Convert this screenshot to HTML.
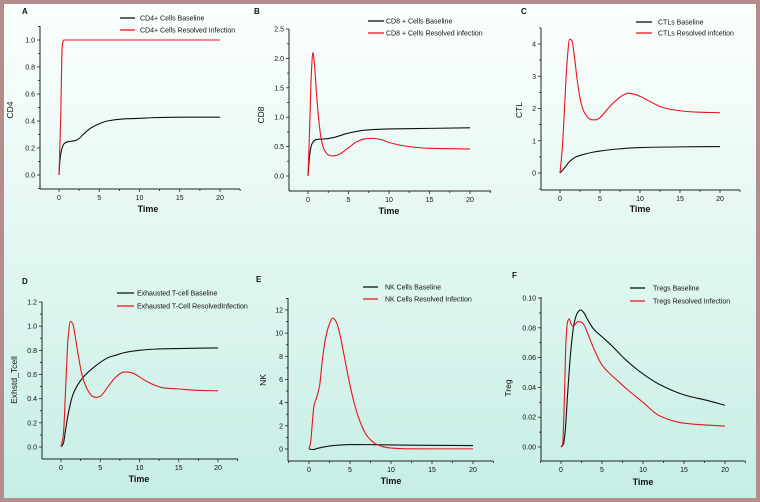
<!DOCTYPE html>
<html><head><meta charset="utf-8">
<style>
html,body{margin:0;padding:0;}
body{width:760px;height:502px;overflow:hidden;}
#wrap{position:absolute;left:0;top:0;width:752px;height:494px;border:4px solid #b48c8c;background:linear-gradient(to bottom,#fbfefd 0%,#e2f7f2 50%,#c6eee4 100%);}
svg{position:absolute;left:0;top:0;}
text{font-family:"Liberation Sans",Arial,sans-serif;fill:#111;}
</style></head>
<body>
<div id="wrap"></div>
<svg id="fig" width="760" height="502"></svg>
<script>
// ---- data ----
const xTicks=[0,5,10,15,20];
const aT=[0,0.1,0.3,0.6,1,1.5,2,2.5,3,4,5,6,8,10,12,15,20];
const aBase=[0,0.1,0.18,0.23,0.245,0.25,0.255,0.27,0.3,0.35,0.38,0.4,0.415,0.42,0.425,0.428,0.428];
const aRT=[0,0.2,0.4,0.5,0.6,1,20];
const aRes=[0,0.4,0.95,0.99,1,1,1];
const aYTicks=[0,0.2,0.4,0.6,0.8,1.0];
const aYLabels=["0.0","0.2","0.4","0.6","0.8","1.0"];

const bT=[0,0.2,0.5,1,2,3,5,7,10,15,20];
const bBase=[0,0.35,0.55,0.62,0.63,0.65,0.73,0.78,0.8,0.81,0.82];
const bRT=[0,0.2,0.4,0.6,0.8,1,1.3,1.6,2,2.5,3,3.5,4,5,6,7,8,9,10,12,15,20];
const bRes=[0,0.8,1.7,2.1,1.9,1.5,1.0,0.65,0.45,0.36,0.34,0.35,0.38,0.48,0.58,0.63,0.64,0.62,0.57,0.51,0.47,0.46];
const bYTicks=[0,0.5,1.0,1.5,2.0,2.5];
const bYLabels=["0.0","0.5","1.0","1.5","2.0","2.5"];

const cT=[0,0.3,0.7,1,1.5,2,3,4,5,7,10,15,20];
const cBase=[0,0.08,0.2,0.3,0.42,0.5,0.58,0.64,0.68,0.74,0.79,0.81,0.82];
const cRT=[0,0.3,0.6,0.9,1.2,1.5,1.8,2.2,2.6,3,3.5,4,4.5,5,5.5,6,7,8,8.5,9,10,11,12,13,15,17,20];
const cRes=[0,0.8,2.2,3.5,4.15,4.1,3.6,2.8,2.2,1.9,1.72,1.65,1.65,1.72,1.85,2.0,2.25,2.43,2.47,2.46,2.38,2.25,2.12,2.02,1.93,1.89,1.87];
const cYTicks=[0,1,2,3,4];
const cYLabels=["0","1","2","3","4"];

const dT=[0,0.3,0.6,1,1.5,2,2.5,3,4,5,6,7,8,10,12,15,20];
const dBase=[0,0.03,0.15,0.3,0.43,0.5,0.55,0.59,0.65,0.7,0.74,0.76,0.78,0.8,0.81,0.815,0.82];
const dRT=[0,0.3,0.6,0.9,1.2,1.5,1.8,2.2,2.6,3,3.5,4,4.5,5,6,7,8,8.5,9,10,11,12,13,15,17,20];
const dRes=[0,0.1,0.5,0.9,1.04,1.02,0.92,0.76,0.62,0.53,0.46,0.42,0.41,0.42,0.5,0.58,0.62,0.62,0.615,0.58,0.54,0.51,0.49,0.48,0.47,0.465];
const dYTicks=[0,0.2,0.4,0.6,0.8,1.0,1.2];
const dYLabels=["0.0","0.2","0.4","0.6","0.8","1.0","1.2"];

const eT=[0,0.5,1,2,3,4,5,6,8,10,15,20];
const eBase=[0,-0.05,0.05,0.2,0.3,0.35,0.38,0.38,0.37,0.35,0.32,0.3];
const eRT=[0,0.2,0.4,0.6,1,1.3,1.6,2,2.5,2.9,3.3,3.8,4.3,5,5.5,6,6.5,7,7.5,8,9,10,12,15,20];
const eRes=[0,0.6,2.2,3.7,4.6,5.5,7.5,9.5,10.8,11.3,11.0,9.8,8.0,5.5,4.0,2.8,1.9,1.2,0.8,0.5,0.2,0.08,0.02,0.01,0.01];
const eYTicks=[0,2,4,6,8,10,12];
const eYLabels=["0","2","4","6","8","10","12"];

const fT=[0,0.3,0.5,0.8,1.2,1.6,2,2.4,2.8,3.2,4,5,6,8,10,12,15,18,20];
const fBase=[0,0.002,0.01,0.035,0.065,0.083,0.09,0.092,0.09,0.086,0.079,0.074,0.069,0.058,0.049,0.042,0.035,0.031,0.028];
const fRT=[0,0.2,0.4,0.6,0.8,1.0,1.2,1.4,1.7,2,2.4,2.8,3.2,4,5,6,7,8,10,12,15,20];
const fRes=[0,0.002,0.03,0.07,0.084,0.086,0.083,0.081,0.082,0.084,0.084,0.082,0.077,0.066,0.055,0.049,0.044,0.039,0.03,0.021,0.016,0.014];
const fYTicks=[0,0.02,0.04,0.06,0.08,0.10];
const fYLabels=["0.00","0.02","0.04","0.06","0.08","0.10"];

// ---- layout ----
const panels=[
 {id:"a",letter:"A",ylab:"CD4",bl:"CD4+ Cells Baseline",rl:"CD4+ Cells Resolved Infection",t:aT,b:aBase,rt:aRT,r:aRes,yt:aYTicks,yl:aYLabels,
  ax:40,x0:59,x20:220,xr:240,ay:189,atop:26,y0:175,yv:1.0,yvp:40,lx:[22,10],ylx:10,yly:110,tx:[148,209],leg:[120,135,18,30,140]},
 {id:"b",letter:"B",ylab:"CD8",bl:"CD8 + Cells Baseline",rl:"CD8 + Cells Resolved infection",t:bT,b:bBase,rt:bRT,r:bRes,yt:bYTicks,yl:bYLabels,
  ax:289,x0:308,x20:470,xr:491,ay:191,atop:29,y0:176,yv:2.5,yvp:29,lx:[254,10],ylx:261,yly:115,tx:[389,211],leg:[368,384,21,33,386]},
 {id:"c",letter:"C",ylab:"CTL",bl:"CTLs Baseline",rl:"CTLs Resolved  infcetion",t:cT,b:cBase,rt:cRT,r:cRes,yt:cYTicks,yl:cYLabels,
  ax:541,x0:560,x20:720,xr:740,ay:190,atop:28,y0:173,yv:4,yvp:44,lx:[521,10],ylx:519,yly:110,tx:[640,209],leg:[636,652,22,33,658]},
 {id:"d",letter:"D",ylab:"Exhstd_Tcell",bl:"Exhausted T-cell Baseline",rl:"Exhausted T-Cell ResolvedInfection",t:dT,b:dBase,rt:dRT,r:dRes,yt:dYTicks,yl:dYLabels,
  ax:42,x0:61,x20:218,xr:238,ay:459,atop:302,y0:447,yv:1.2,yvp:302,lx:[22,280],ylx:14,yly:380,tx:[139,479],leg:[117,134,293,306,137]},
 {id:"e",letter:"E",ylab:"NK",bl:"NK Cells Baseline",rl:"NK Cells  Resolved Infection",t:eT,b:eBase,rt:eRT,r:eRes,yt:eYTicks,yl:eYLabels,
  ax:288,x0:309,x20:473,xr:493,ay:461,atop:298,y0:449,yv:12,yvp:310,lx:[256,278],ylx:263,yly:380,tx:[391,481],leg:[363,378,287,299,385]},
 {id:"f",letter:"F",ylab:"Treg",bl:"Tregs Baseline",rl:"Tregs Resolved Infection",t:fT,b:fBase,rt:fRT,r:fRes,yt:fYTicks,yl:fYLabels,
  ax:541,x0:561,x20:725,xr:745,ay:461,atop:297,y0:447,yv:0.10,yvp:298,lx:[512,274],ylx:508,yly:388,tx:[643,482],leg:[630,645,288,301,653]}
];
const NS="http://www.w3.org/2000/svg";
const svg=document.getElementById("fig");
function mk(tag,attrs,parent){const e=document.createElementNS(NS,tag);for(const k in attrs)e.setAttribute(k,attrs[k]);(parent||svg).appendChild(e);return e;}
function txt(s,attrs,parent){const e=mk("text",attrs,parent);e.textContent=s;return e;}

// monotone cubic path (Fritsch-Carlson) in pixel space
function monoPath(xs,ys){
  const n=xs.length;
  if(n<2)return "";
  const d=[],m=[];
  for(let i=0;i<n-1;i++)d.push((ys[i+1]-ys[i])/(xs[i+1]-xs[i]));
  m[0]=d[0];m[n-1]=d[n-2];
  for(let i=1;i<n-1;i++){
    if(d[i-1]*d[i]<=0)m[i]=0;
    else{const w1=2*(xs[i+1]-xs[i])+(xs[i]-xs[i-1]),w2=(xs[i+1]-xs[i])+2*(xs[i]-xs[i-1]);m[i]=(w1+w2)/(w1/d[i-1]+w2/d[i]);}
  }
  let s="M"+xs[0].toFixed(2)+","+ys[0].toFixed(2);
  for(let i=0;i<n-1;i++){
    const h=(xs[i+1]-xs[i])/3;
    s+="C"+(xs[i]+h).toFixed(2)+","+(ys[i]+m[i]*h).toFixed(2)+" "+(xs[i+1]-h).toFixed(2)+","+(ys[i+1]-m[i+1]*h).toFixed(2)+" "+xs[i+1].toFixed(2)+","+ys[i+1].toFixed(2);
  }
  return s;
}

panels.forEach(p=>{
  const g=mk("g",{});
  
  
  const sx=v=>p.x0+(p.x20-p.x0)*v/20;
  const sy=v=>p.y0-(p.y0-p.yvp)*v/p.yv;
  const yAx=mk("line",{x1:p.ax,y1:p.ay,x2:p.ax,y2:p.atop,stroke:"#222","stroke-width":1},g);
  
  
  const xAx=mk("line",{x1:p.ax,y1:p.ay,x2:p.xr,y2:p.ay,stroke:"#222","stroke-width":1},g);
  
  
  for(let v=-2.5;v<=22.5;v+=2.5){
    const major=xTicks.indexOf(v)>=0;
    const X=sx(v); if(X<p.ax-0.5||X>p.xr+0.5)continue;
    mk("line",{x1:X,y1:p.ay,x2:X,y2:p.ay+(major?3:2),stroke:"#222","stroke-width":0.8},g);
  }
  xTicks.forEach(v=>{
    const t=txt(String(v),{x:sx(v),y:p.ay+11,"font-size":7,"text-anchor":"middle"},g);
    
    
  });
  const step=p.yt[1]-p.yt[0];
  for(let i=-1;i<p.yt.length*2+1;i++){
    const v=i*step/2; const Y=sy(v);
    if(Y>p.ay-0.5||Y<p.atop-0.5)continue;
    mk("line",{x1:p.ax,y1:Y,x2:p.ax-(i%2===0?3:2),y2:Y,stroke:"#222","stroke-width":0.8},g);
  }
  p.yt.forEach((v,i)=>{
    const t=txt(p.yl[i],{x:p.ax-5,y:sy(v)+2.5,"font-size":7,"text-anchor":"end"},g);
    
    
  });
  const L=txt(p.letter,{x:p.lx[0],y:p.lx[1]+4,"font-size":8,"font-weight":"bold"},g);
  
  
  const tl=txt("Time",{x:p.tx[0],y:p.tx[1]+3,"font-size":9,"text-anchor":"middle","font-weight":"bold"},g);
  
  
  const yl=txt(p.ylab,{x:0,y:0,"font-size":8.5,"text-anchor":"middle",transform:`translate(${p.ylx+3},${p.yly}) rotate(-90)`},g);
  
  
  const path=(ts,vs)=>monoPath(ts.map(sx),vs.map(sy));
  const pb=mk("path",{d:path(p.t,p.b),fill:"none",stroke:"#111","stroke-width":1.1,"stroke-linejoin":"round"},g);
  
  
  const pr=mk("path",{d:path(p.rt,p.r),fill:"none",stroke:"#e8141e","stroke-width":1.1,"stroke-linejoin":"round"},g);
  
  
  const [l1,l2,y1,y2,tx]=p.leg;
  const lg=mk("g",{},g);
  
  
  mk("line",{x1:l1,y1:y1,x2:l2,y2:y1,stroke:"#111","stroke-width":1.3},lg);
  mk("line",{x1:l1,y1:y2,x2:l2,y2:y2,stroke:"#e8141e","stroke-width":1.3},lg);
  const e1=txt(p.bl,{x:tx,y:y1+2.5,"font-size":7},lg);
  
  
  const e2=txt(p.rl,{x:tx,y:y2+2.5,"font-size":7},lg);
  
  
});
</script>
</body></html>
